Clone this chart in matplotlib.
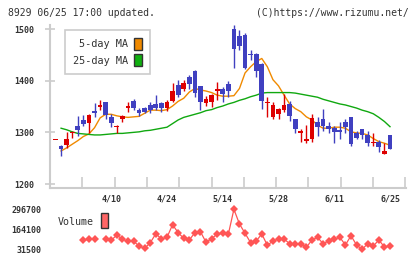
import numpy as np
import matplotlib
matplotlib.use('Agg')
import matplotlib.pyplot as plt
import matplotlib.patches as patches

nan = np.nan

date_labels = ['4/10', '4/24', '5/14', '5/28', '6/11', '6/25']
date_idx = [10, 20, 30, 40, 50, 60]

opens = [1286, 1273, 1276, 1300, 1312, 1324, 1319, 1342, 1349, 1359,
         1330, 1311, 1326, 1348, 1360, 1343, 1348, 1353, 1354, 1356,
         1348, 1361, 1392, 1384, 1407, 1418, 1389, 1357, 1359, 1380,
         1384, 1393, 1501, 1486, 1489, 1452, 1452, 1433, 1356, 1329,
         1335, 1343, 1355, 1326, 1299, 1284, 1288, 1320, 1326, 1312,
         1308, 1304, 1320, 1330, 1299, 1306, 1295, 1280, 1282, 1258, 1295]
highs = [1286, 1276, 1301, 1303, 1332, 1334, 1336, 1357, 1362, 1359,
         1336, 1314, 1334, 1359, 1364, 1348, 1350, 1359, 1372, 1359,
         1362, 1396, 1401, 1401, 1411, 1420, 1390, 1370, 1374, 1398,
         1388, 1399, 1508, 1499, 1492, 1459, 1453, 1434, 1368, 1359,
         1348, 1374, 1360, 1326, 1307, 1314, 1336, 1330, 1346, 1320,
         1312, 1320, 1325, 1330, 1302, 1306, 1302, 1299, 1286, 1280, 1295]
lows = [1286, 1255, 1269, 1290, 1292, 1312, 1298, 1329, 1343, 1325,
        1310, 1298, 1321, 1340, 1343, 1332, 1337, 1338, 1343, 1340,
        1342, 1359, 1369, 1380, 1384, 1369, 1343, 1351, 1350, 1362,
        1359, 1368, 1424, 1459, 1422, 1440, 1408, 1345, 1330, 1325,
        1325, 1340, 1322, 1299, 1282, 1280, 1282, 1293, 1302, 1299,
        1280, 1288, 1299, 1274, 1287, 1287, 1274, 1273, 1262, 1258, 1268]
closes = [1286, 1267, 1288, 1300, 1304, 1316, 1333, 1338, 1353, 1334,
          1318, 1312, 1331, 1351, 1348, 1337, 1340, 1343, 1347, 1347,
          1359, 1380, 1372, 1395, 1394, 1376, 1359, 1364, 1372, 1384,
          1374, 1381, 1461, 1467, 1425, 1451, 1418, 1361, 1359, 1353,
          1345, 1353, 1332, 1307, 1302, 1288, 1328, 1310, 1312, 1306,
          1301, 1301, 1310, 1277, 1290, 1294, 1280, 1281, 1272, 1264, 1268]

ma5 = [nan, 1264, 1270, 1277, 1284, 1292, 1297, 1309, 1328, 1335,
       1335, 1332, 1330, 1329, 1330, 1331, 1337, 1343, 1343, 1342,
       1344, 1351, 1360, 1366, 1378, 1385, 1382, 1380, 1377, 1372,
       1370, 1370, 1371, 1385, 1415, 1427, 1437, 1443, 1427, 1402,
       1390, 1372, 1355, 1346, 1340, 1330, 1324, 1314, 1308, 1308,
       1310, 1310, 1308, 1301, 1299, 1298, 1295, 1288, 1282, 1279, 1275]
ma25 = [nan, 1308, 1305, 1301, 1298, 1297, 1296, 1295, 1295, 1296,
        1297, 1298, 1298, 1299, 1300, 1301, 1303, 1304, 1306, 1308,
        1310, 1317, 1324, 1329, 1332, 1335, 1338, 1342, 1344, 1348,
        1351, 1355, 1358, 1362, 1365, 1369, 1372, 1376, 1377, 1377,
        1377, 1377, 1377, 1376, 1374, 1372, 1370, 1368, 1364, 1361,
        1358, 1355, 1353, 1350, 1347, 1343, 1340, 1336, 1329, 1321, 1311]

volume = [nan, nan, nan, nan, nan, 93200, 97800, 97800, nan, 97800,
          91200, 126300, 97800, 84500, 84500, 53400, 38100, 75300, 134900, 99800,
          111100, 194600, 141600, 104400, 93200, 141600, 148200, 77900, 101800, 132900,
          137600, 131000, 296700, 199200, 137600, 75300, 86500, 132900, 58000, 86500,
          99800, 99800, 68600, 68600, 68600, 44800, 93200, 111100, 68600, 86500,
          97800, 111100, 60000, 121700, 60000, 31500, 68600, 53400, 93200, 46700, 53400]

RED = '#dd0000'
BLUE = '#4040c0'
GRID = '#cccccc'
TXT = '#333333'
MONO = 'DejaVu Sans Mono'

W, H = 420, 259
fig = plt.figure(figsize=(W / 100, H / 100), dpi=100)

def px_axes(l, t, r, b):
    return fig.add_axes([l / W, 1 - b / H, (r - l) / W, (b - t) / H])

n = len(opens)
x = np.arange(n)
xmin = -0.987
xmax = xmin + 356 / 5.575

# price panel
ax = px_axes(50, 25, 406, 188)
ax.set_xlim(xmin, xmax)
ax.set_ylim(1192.3, 1507.8)
for s in ['top', 'right']:
    ax.spines[s].set_visible(False)
for s in ['left', 'bottom']:
    ax.spines[s].set_color(GRID)
    ax.spines[s].set_linewidth(1.5)

o = np.array(opens, float)
c = np.array(closes, float)
up = c >= o
cols = np.where(up, RED, BLUE)
ax.vlines(x, lows, highs, colors=cols, linewidth=1.0, zorder=3)
body_lo = np.minimum(o, c)
body_h = np.maximum(np.abs(c - o), 1.6)
ax.bar(x, body_h, bottom=body_lo - np.where(np.abs(c - o) < 1.6, 0.8, 0), width=0.85,
       color=cols, linewidth=0, zorder=4)

ax.plot(x, ma5, color='#f08a00', linewidth=1.0, zorder=2)
ax.plot(x, ma25, color='#10a810', linewidth=1.0, zorder=2)

ax.set_yticks([1200, 1300, 1400, 1500])
ax.tick_params(axis='y', direction='inout', length=7, width=1.2, color=GRID,
               labelsize=6, labelcolor=TXT, pad=8)
ax.set_xticks(date_idx)
ax.set_xticklabels(date_labels)
ax.set_xticks(np.linspace(xmin, xmin + 355.3 / 5.575, 12), minor=True)
ax.tick_params(axis='x', which='major', length=0, labelsize=6, labelcolor=TXT, pad=5)
ax.tick_params(axis='x', which='minor', direction='in', length=8, width=1.2, color=GRID)
for lab in ax.get_xticklabels() + ax.get_yticklabels():
    lab.set_family(MONO)
    lab.set_fontweight('bold')

h1 = patches.Patch(facecolor='#f08a00', edgecolor='#333333', linewidth=1)
h2 = patches.Patch(facecolor='#10b010', edgecolor='#333333', linewidth=1)
leg = ax.legend([h1, h2], ['5-day MA', '25-day MA'], loc='upper left',
                bbox_to_anchor=((65 - 50) / 356, (188 - 30) / 163),
                markerfirst=False, fancybox=False, framealpha=1,
                edgecolor=GRID, handlelength=0.8, handleheight=1.4,
                handletextpad=0.6, labelspacing=0.45, borderpad=0.75,
                borderaxespad=0, prop={'family': MONO, 'size': 7.4})
leg.get_frame().set_linewidth(1.2)
for t in leg.get_texts():
    t.set_color(TXT)

# volume panel
vax = px_axes(50, 205, 406, 253)
vax.set_xlim(xmin, xmax)
vax.set_ylim(6970, 325200)
for s in vax.spines.values():
    s.set_visible(False)
vax.plot(x, volume, color='#ff5555', linewidth=0.9, marker='D', markersize=4.2,
         markeredgewidth=0, markerfacecolor='#ff5555')
vax.set_xticks([])
vax.set_yticks([31500, 164100, 296700])
vax.set_yticklabels(['31500', '164100', '296700'])
vax.tick_params(axis='y', length=0, labelsize=6, labelcolor=TXT, pad=6)
for lab in vax.get_yticklabels():
    lab.set_family(MONO)
    lab.set_fontweight('bold')

fig.text(58 / W, 1 - 222 / H, 'Volume', family=MONO, fontsize=7.2, color=TXT,
         ha='left', va='center')
fig.patches.append(patches.Rectangle((101 / W, 1 - 228 / H), 7 / W, 15 / H,
                                     transform=fig.transFigure, facecolor='#ff6666',
                                     edgecolor='#333333', linewidth=1))

fig.text(8 / W, 1 - 13 / H, '8929 06/25 17:00 updated.', family=MONO,
         fontsize=7.0, color=TXT, ha='left', va='center')
fig.text(409 / W, 1 - 13 / H, '(C)https://www.rizumu.net/', family=MONO,
         fontsize=7.0, color=TXT, ha='right', va='center')

fig.savefig('out.png', dpi=100)
